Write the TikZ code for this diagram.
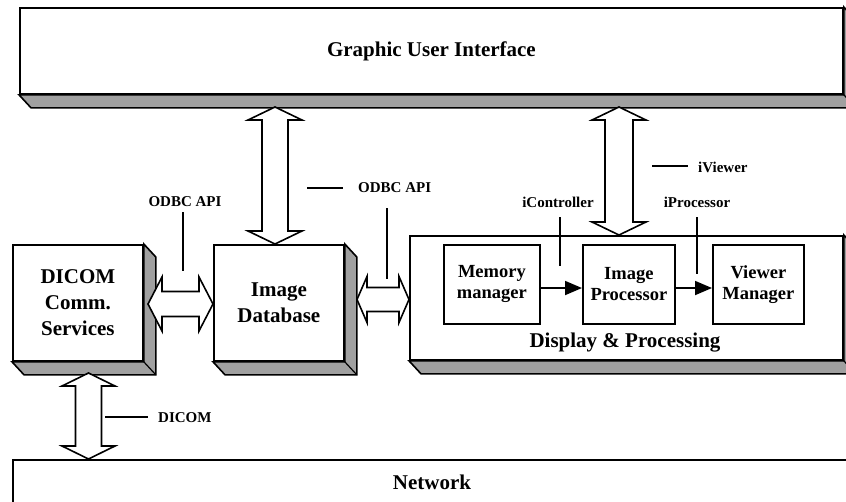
\documentclass[tikz,border=0pt]{standalone}
\usepackage{fontspec}
\setmainfont{Liberation Serif}
\usetikzlibrary{calc,arrows.meta}
\definecolor{sidegray}{RGB}{160,160,160}

% front face of a box
\tikzset{
  box/.style={draw=black, line width=1.8pt, fill=white, inner sep=0pt, anchor=north west,
              align=center, font=\fontsize{21}{26}\selectfont\bfseries},
  inbox/.style={draw=black, line width=1.8pt, fill=white, inner sep=0pt, anchor=north west,
              align=center, font=\fontsize{18.5}{21}\selectfont\bfseries},
  lbl/.style={inner sep=0pt, font=\fontsize{15}{18}\selectfont\bfseries},
  bigtxt/.style={inner sep=0pt, font=\fontsize{21}{26}\selectfont\bfseries},
  callout/.style={line width=1.4pt},
  blockarrow/.style={draw=black, line width=1.6pt, fill=white, line join=miter},
  flow/.style={line width=1.8pt, -{Triangle[length=17pt,width=14pt]}},
}

% grey depth faces to the right and below a box
\newcommand\depth[1]{%
  \filldraw[fill=sidegray, draw=black, line width=1.6pt, line join=miter]
    (#1.north east) -- ++(12,13) -- ($(#1.south east)+(12,13)$)
    -- ($(#1.south west)+(12,13)$) -- (#1.south west) -- (#1.south east) -- cycle;
  \draw[line width=1.2pt] (#1.south east) -- ++(12,13);
}

% vertical double block arrow: top tip, bottom tip, shaft half width, head half width
\newcommand\vdouble[4]{%
  \draw[blockarrow] (#1) -- ++(#4,13) -- ++({#3-#4},0) -- ($(#2)+(#3,-13)$)
    -- ++({#4-#3},0) -- (#2) -- ++(-#4,-13) -- ++({#4-#3},0)
    -- ($(#1)+(-#3,13)$) -- ++({#3-#4},0) -- cycle;
}
% horizontal double block arrow: left tip, right tip, shaft half height, head half height, head length
\newcommand\hdouble[5]{%
  \draw[blockarrow] (#1) -- ++(#5,-#4) -- ++(0,{#4-#3}) -- ($(#2)+(-#5,-#3)$)
    -- ++(0,{#3-#4}) -- (#2) -- ++(-#5,#4) -- ++(0,{#3-#4})
    -- ($(#1)+(#5,#3)$) -- ++(0,{#4-#3}) -- cycle;
}

\begin{document}
\begin{tikzpicture}[x=1pt,y=-1pt]
\useasboundingbox (0,0) rectangle (846,501);
\clip (0,0) rectangle (846,501);
\fill[white] (0,0) rectangle (846,501);

% main blocks
\node[box, minimum width=823, minimum height=86] (gui) at (19,7) {Graphic User Interface};
\depth{gui}
\node[box, minimum width=130, minimum height=116] (dicom) at (12,244) {DICOM\\Comm.\\Services};
\depth{dicom}
\node[box, minimum width=130, minimum height=116] (db) at (213,244) {Image\\Database};
\depth{db}
\node[box, minimum width=433, minimum height=124] (dp) at (409,235) {};
\depth{dp}
\node[bigtxt] (dptxt) at (625,343) {Display \& Processing};
\node[box, minimum width=860, minimum height=70] (net) at (12,459) {};
\node[bigtxt] (nettxt) at (432,482) {Network};

% components inside Display & Processing
\node[inbox, minimum width=96, minimum height=79] (mem) at (443,244) {Memory\\manager};
\node[inbox, minimum width=92, minimum height=79] (proc) at (582,244) {Image\\Processor};
\node[inbox, minimum width=91, minimum height=79] (view) at (712,244) {Viewer\\Manager};
\draw[flow] (mem.east |- 0,288) -- (proc.west |- 0,288);
\draw[flow] (proc.east |- 0,288) -- (view.west |- 0,288);

% interface arrows
\coordinate (a1b) at (db.north -| 275,0);
\coordinate (a1t) at (a1b |- 0,107);
\vdouble{a1t}{a1b}{13}{27}
\coordinate (a2b) at (dp.north -| 619,0);
\coordinate (a2t) at (a2b |- 0,107);
\vdouble{a2t}{a2b}{14}{27}
\coordinate (a3t) at (88.5,373);
\coordinate (a3b) at (net.north -| a3t);
\vdouble{a3t}{a3b}{13}{26.5}
\coordinate (h1l) at (148,304);
\coordinate (h1r) at (db.west |- h1l);
\hdouble{h1l}{h1r}{12.5}{27}{14}
\coordinate (h2l) at (357,299.5);
\coordinate (h2r) at (dp.west |- h2l);
\hdouble{h2l}{h2r}{12}{23}{10}

% interface labels with their callout lines
\node[lbl] (odbc1) at (185,202) {ODBC API};
\coordinate (odbc1e) at (183,271);
\draw[callout] (odbc1e |- 0,212) -- (odbc1e);

\node[lbl, anchor=west] (odbc2) at (358,188) {ODBC API};
\coordinate (odbc2s) at (307,188);
\draw[callout] (odbc2s) -- (343,188);
\coordinate (odbc2e) at (387,279);
\draw[callout] (odbc2e |- 0,208) -- (odbc2e);

\node[lbl] (ictl) at (558,202) {iController};
\coordinate (ictle) at (560,266);
\draw[callout] (ictle |- 0,217) -- (ictle);

\node[lbl] (iproc) at (697,202) {iProcessor};
\coordinate (iproce) at (697,274);
\draw[callout] (iproce |- 0,217) -- (iproce);

\node[lbl, anchor=west] (iview) at (698,167) {iViewer};
\coordinate (iviews) at (652,166);
\draw[callout] (iviews) -- (688,166);

\node[lbl, anchor=west] (dcm) at (158,418) {DICOM};
\coordinate (dcms) at (105,417);
\draw[callout] (dcms) -- (148,417);
\end{tikzpicture}
\end{document}
